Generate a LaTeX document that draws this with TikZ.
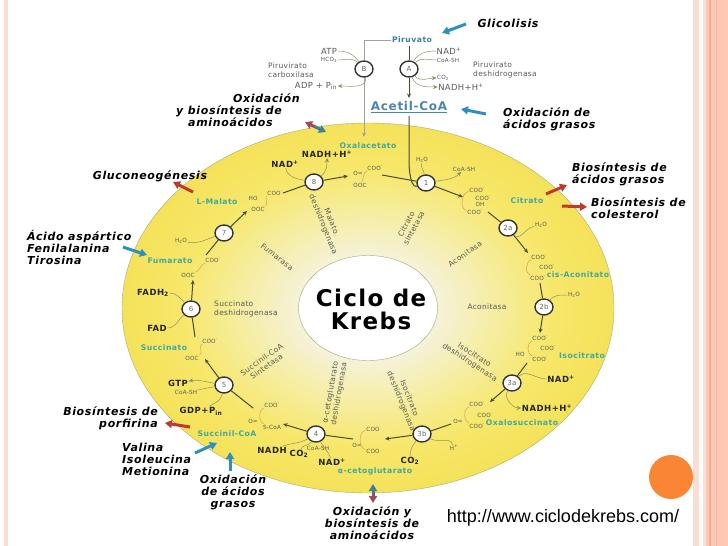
\documentclass[tikz,border=0pt]{standalone}
\usepackage{fontspec}
\setmainfont{DejaVu Sans}
\newfontfamily\notefont[LetterSpace=6]{DejaVu Sans}
\newfontfamily\smallfont[LetterSpace=4]{DejaVu Sans}
\newfontfamily\urlfont{Liberation Sans}
\usetikzlibrary{shapes.geometric,arrows.meta}
\definecolor{stripepale}{HTML}{FCDDD2}
\definecolor{stripemain}{HTML}{FFC8B4}
\definecolor{stripedark}{HTML}{EDB08C}
\definecolor{orangedot}{HTML}{F98535}
\definecolor{diskline}{HTML}{A8A878}
\definecolor{teallabel}{HTML}{3FA9A0}
\definecolor{bluelabel}{HTML}{4A86A8}
\definecolor{bluearrow}{HTML}{2E8FC0}
\definecolor{redarrow}{HTML}{C03A2B}
\definecolor{duskred}{HTML}{A04C58}
\definecolor{duskblue}{HTML}{3F7F9A}
\definecolor{flowline}{HTML}{4A4A2E}
\definecolor{sideline}{HTML}{8F8F68}
\definecolor{chainline}{HTML}{D9A050}
\definecolor{greyline}{HTML}{9AA3A3}
\definecolor{diskmid}{HTML}{F5F2DA}
\definecolor{diskwarm}{HTML}{F6EDA0}
\definecolor{diskgold}{HTML}{F7E769}
\definecolor{diskedge}{HTML}{F5E25A}
\pgfdeclareradialshading{diskshade}{\pgfpoint{0bp}{0bp}}{color(0bp)=(diskmid);color(7bp)=(diskmid);color(13bp)=(diskwarm);color(19bp)=(diskgold);color(25bp)=(diskedge);color(50bp)=(diskedge)}
\begin{document}
\begin{tikzpicture}[x=1pt, y=-1pt, >={Stealth[length=4.5pt,width=4pt]},
	enzyme/.style = {draw=black!80, ellipse, fill=white, line width=1.4pt, inner sep=0pt, minimum width=18pt, minimum height=16pt, text=black!60, font=\smallfont\fontsize{7}{8}\selectfont},
	metabolite/.style = {text=teallabel, inner sep=0.5pt, font=\notefont\bfseries\fontsize{7.7}{9}\selectfont},
	cofactor/.style = {text=black!85, inner sep=0.5pt, font=\notefont\bfseries\fontsize{8.5}{10}\selectfont},
	plain/.style = {text=black!65, inner sep=0.5pt, font=\smallfont\fontsize{8.4}{9}\selectfont},
	tiny/.style = {text=black!65, inner sep=0.5pt, font=\smallfont\fontsize{5.7}{6}\selectfont},
	enzname/.style = {text=black!65, align=center, inner sep=0pt, font=\smallfont\fontsize{7.5}{8.6}\selectfont},
	note/.style = {text=black, inner sep=0pt, font=\notefont\bfseries\itshape\fontsize{11}{12}\selectfont},
	flow/.style = {draw=flowline, line width=1pt},
	side/.style = {draw=sideline, line width=0.5pt},
	chain/.style = {draw=chainline, line width=0.5pt},
	bigarrow/.style = {-{Triangle[length=7pt,width=8pt]}, line width=3pt}]
	\useasboundingbox (0,0) rectangle (728,546);
	\fill[stripepale] (4,0) rectangle (8,546);
	\fill[stripepale] (693,0) rectangle (699,546);
	\fill[stripepale] (703,0) rectangle (706,546);
	\fill[stripemain] (706,0) rectangle (728,546);
	\fill[stripedark] (709,0) rectangle (710.5,546);
	\fill[stripedark!60!stripemain] (716,0) rectangle (717,546);

	\node[ellipse, draw=diskline, shade, shading=diskshade, inner sep=0pt, minimum width=492pt, minimum height=370pt] (disk) at (368,308) {};
	\node[ellipse, draw=diskline, fill=white, inner sep=0pt, minimum width=139pt, minimum height=105pt] (hole) at (368,308) {};
	\node[align=center, inner sep=0pt, font=\notefont\bfseries\fontsize{23}{23}\selectfont] (krebs) at (371,309) {Ciclo de\\ Krebs};
	\node[circle, fill=orangedot, minimum size=44pt, inner sep=0pt] (dot) at (671,477) {};
	\node[inner sep=0pt, font=\urlfont\fontsize{18}{20}\selectfont] (url) at (563,518) {http://www.ciclodekrebs.com/};

	\node[enzyme] (A) at (409,69) {A};
	\node[enzyme] (B) at (364,69) {B};
	\node[enzyme] (e1) at (426,183) {1};
	\node[enzyme] (e2a) at (508,228) {2a};
	\node[enzyme] (e2b) at (544,307) {2b};
	\node[enzyme] (e3a) at (512,383) {3a};
	\node[enzyme] (e3b) at (422,434) {3b};
	\node[enzyme] (e4) at (316,434) {4};
	\node[enzyme] (e5) at (224,385) {5};
	\node[enzyme] (e6) at (191,309) {6};
	\node[enzyme] (e7) at (224,233) {7};
	\node[enzyme] (e8) at (314,182) {8};

	\node[metabolite, text=duskblue] (piruvato) at (412,40) {Piruvato};
	\node[inner sep=1pt, text=bluelabel, font=\notefont\bfseries\fontsize{12}{13}\selectfont] (acetil) at (409,107) {\underline{Acetil-CoA}};
	\node[metabolite] (oxalacetato) at (368,146) {Oxalacetato};
	\node[metabolite] (citrato) at (527,201) {Citrato};
	\node[metabolite] (cisacon) at (578,275) {cis-Aconitato};
	\node[metabolite] (isocitrato) at (582,356) {Isocitrato};
	\node[metabolite] (oxalosucc) at (522,423) {Oxalosuccinato};
	\node[metabolite] (cetoglut) at (375,471) {α-cetoglutarato};
	\node[metabolite] (succoa) at (227,434) {Succinil-CoA};
	\node[metabolite] (succinato) at (164,348) {Succinato};
	\node[metabolite] (fumarato) at (170,261) {Fumarato};
	\node[metabolite] (malato) at (217,202) {L-Malato};

	\node[plain] (atp) at (329,51) {ATP};
	\node[tiny] (hco) at (329,60) {HCO\textsubscript{3}};
	\node[plain] (adp) at (316,86) {ADP + P\textsubscript{in}};
	\node[plain] (nadA) at (449,51) {NAD\textsuperscript{+}};
	\node[tiny] (coaA) at (448,60) {CoA-SH};
	\node[tiny] (coA) at (443,78) {CO\textsubscript{2}};
	\node[plain] (nadhA) at (461,87) {NADH+H\textsuperscript{+}};
	\node[enzname, align=left, anchor=west] (pcarb) at (268,70) {Piruvirato\\ carboxilasa};
	\node[enzname, align=left, anchor=west] (pdes) at (473,70) {Piruvirato\\ deshidrogenasa};

	\node[tiny] (wat1) at (422,160) {H\textsubscript{2}O};
	\node[tiny] (coa1) at (464,169) {CoA-SH};
	\node[tiny] (wat2a) at (541,225) {H\textsubscript{2}O};
	\node[tiny] (wat2b) at (574,295) {H\textsubscript{2}O};
	\node[cofactor] (nad3a) at (561,379) {NAD\textsuperscript{+}};
	\node[cofactor] (nadh3a) at (547,408) {NADH+H\textsuperscript{+}};
	\node[cofactor] (co3b) at (410,461) {CO\textsubscript{2}};
	\node[tiny] (h3b) at (454,448) {H\textsuperscript{+}};
	\node[cofactor] (nadh4) at (272,450) {NADH};
	\node[cofactor] (co4) at (299,454) {CO\textsubscript{2}};
	\node[tiny] (coa4) at (318,448) {CoA-SH};
	\node[cofactor] (nad4) at (332,462) {NAD\textsuperscript{+}};
	\node[cofactor] (gtp) at (178,383) {GTP};
	\node[tiny] (coa5) at (186,392) {CoA-SH};
	\node[cofactor] (gdp) at (201,411) {GDP+P\textsubscript{in}};
	\node[cofactor] (fadh) at (153,293) {FADH\textsubscript{2}};
	\node[cofactor] (fad) at (157,328) {FAD};
	\node[tiny] (wat7) at (181,241) {H\textsubscript{2}O};
	\node[cofactor] (nad8) at (285,164) {NAD\textsuperscript{+}};
	\node[cofactor] (nadh8) at (327,154) {NADH+H\textsuperscript{+}};

	\node[tiny] (oxa1) at (375,168) {COO\textsuperscript{-}};
	\node[tiny] (oxa2) at (358,173) {O=};
	\node[tiny] (oxa3) at (360,185) {OOC};
	\node[tiny] (cit1) at (477,190) {COO\textsuperscript{-}};
	\node[tiny] (cit2) at (483,198) {COO\textsuperscript{-}};
	\node[tiny] (cit3) at (480,204) {OH};
	\node[tiny] (cit4) at (475,212) {COO\textsuperscript{-}};
	\node[tiny] (cis1) at (539,257) {COO\textsuperscript{-}};
	\node[tiny] (cis2) at (547,267) {COO\textsuperscript{-}};
	\node[tiny] (cis3) at (538,278) {COO\textsuperscript{-}};
	\node[tiny] (iso1) at (540,338) {COO\textsuperscript{-}};
	\node[tiny] (iso2) at (548,348) {COO\textsuperscript{-}};
	\node[tiny] (iso3) at (520,354) {HO};
	\node[tiny] (iso4) at (540,359) {COO\textsuperscript{-}};
	\node[tiny] (osu1) at (477,404) {COO\textsuperscript{-}};
	\node[tiny] (osu2) at (485,415) {COO\textsuperscript{-}};
	\node[tiny] (osu3) at (458,421) {O=};
	\node[tiny] (osu4) at (477,426) {COO\textsuperscript{-}};
	\node[tiny] (cet1) at (373,429) {COO};
	\node[tiny] (cet2) at (357,445) {O=};
	\node[tiny] (cet3) at (373,451) {COO};
	\node[tiny] (suc1) at (272,405) {COO\textsuperscript{-}};
	\node[tiny] (suc2) at (253,421) {O=};
	\node[tiny] (suc3) at (272,427) {S-CoA};
	\node[tiny] (sut1) at (210,341) {COO\textsuperscript{-}};
	\node[tiny] (sut2) at (192,358) {OOC};
	\node[tiny] (fum1) at (213,260) {COO\textsuperscript{-}};
	\node[tiny] (fum2) at (188,275) {OOC};
	\node[tiny] (mal1) at (275,193) {COO\textsuperscript{-}};
	\node[tiny] (mal2) at (253,198) {HO};
	\node[tiny] (mal3) at (258,209) {OOC};

	\node[enzname, rotate=62] (ncs) at (410,226) {Citrato\\ sintetasa};
	\node[enzname, rotate=35] (nac1) at (465,254) {Aconitasa};
	\node[enzname] (nac2) at (487,307) {Aconitasa};
	\node[enzname, rotate=-33] (nid1) at (472,359) {Isocitrato\\ deshidrogenasa};
	\node[enzname, rotate=-68] (nid2) at (405,400) {Isocitrato\\ deshidrogenasa};
	\node[enzname, rotate=80] (nak) at (335,393) {α-cetoglutarato\\ deshidrogenasa};
	\node[enzname, rotate=35] (nsc) at (264,363) {Succinil-CoA\\ Sintetasa};
	\node[enzname, align=left, anchor=west] (nsd) at (214,309) {Succinato\\ deshidrogenasa};
	\node[enzname, rotate=-38] (nfu) at (277,257) {Fumarasa};
	\node[enzname, rotate=-68] (nmd) at (327,223) {Malato\\ deshidrogenasa};

	\node[note] (glico) at (508,23) {Glicolisis};
	\node[note, align=left, anchor=west] (oxgra1) at (503,119) {Oxidación de\\ ácidos grasos};
	\node[note, align=left, anchor=west] (oxami1) at (176,110) {\hspace*{57pt}Oxidación\\ y biosíntesis de\\ \hspace*{12pt}aminoácidos};
	\node[note, align=left, anchor=west] (bgrasos) at (572,174.5) {Biosíntesis de\\ ácidos grasos};
	\node[note, align=left, anchor=west] (bcoles) at (591,208) {Biosíntesis de\\ colesterol};
	\node[note] (gluco) at (150,176) {Gluconeogénesis};
	\node[note, align=left, anchor=west] (aspart) at (27,247) {Ácido aspártico\\ Fenilalanina\\ Tirosina};
	\node[note, align=right, anchor=east] (porfi) at (158,418) {Biosíntesis de\\ porfirina};
	\node[note, align=left, anchor=west] (valina) at (122,459) {Valina\\ Isoleucina\\ Metionina};
	\node[note, align=center] (oxgra2) at (233,492) {Oxidación\\ de ácidos\\ grasos};
	\node[note, align=center] (oxami2) at (372,523) {Oxidación y\\ biosíntesis de\\ aminoácidos};

	\coordinate (piru) at (364,40);
	\coordinate (piruA) at (409,46);
	\coordinate (tipA) at (409,98);
	\coordinate (acet) at (409,116);
	\coordinate (oxal) at (364,137);
	\coordinate (acbend) at (409,165);
	\coordinate (s1) at (382,175);
	\coordinate (t8) at (348,176);
	\coordinate (t1) at (463,197);
	\coordinate (t2a) at (528,253);
	\coordinate (t2b) at (540,333);
	\coordinate (t3a) at (490,402);
	\coordinate (t3b) at (385,439);
	\coordinate (t4) at (283,424);
	\coordinate (t5) at (205,359);
	\coordinate (t6) at (193,280);
	\coordinate (t7) at (247,211);
	\coordinate (s2) at (488,212);
	\coordinate (s2b) at (540,283);
	\coordinate (s3) at (527,363);
	\coordinate (s4) at (451,424);
	\coordinate (s5) at (353,439);
	\coordinate (s6) at (253,408);
	\coordinate (s7) at (195,337);
	\coordinate (s8) at (206,255);
	\coordinate (s9) at (283,193);

	\draw[draw=greyline, line width=1pt] (piruvato.west) -- (piru) -- (B.north);
	\draw[->, draw=greyline, line width=1pt] (B.south) -- (oxal);
	\draw[flow] (piruA) -- (A.north);
	\draw[->, flow] (A.south) -- (tipA);
	\draw[flow] (acet) -- (acbend) to[out=90, in=200] (e1);

	\draw[flow] (s1) -- (e1);
	\draw[->, flow] (e1) -- (t1);
	\draw[flow] (s2) -- (e2a);
	\draw[->, flow] (e2a) -- (t2a);
	\draw[flow] (s2b) -- (e2b);
	\draw[->, flow] (e2b) -- (t2b);
	\draw[flow] (s3) -- (e3a);
	\draw[->, flow] (e3a) -- (t3a);
	\draw[flow] (s4) -- (e3b);
	\draw[->, flow] (e3b) -- (t3b);
	\draw[flow] (s5) -- (e4);
	\draw[->, flow] (e4) -- (t4);
	\draw[flow] (s6) -- (e5);
	\draw[->, flow] (e5) -- (t5);
	\draw[flow] (s7) -- (e6);
	\draw[->, flow] (e6) -- (t6);
	\draw[flow] (s8) -- (e7);
	\draw[->, flow] (e7) -- (t7);
	\draw[flow] (s9) -- (e8);
	\draw[->, flow] (e8) -- (t8);

	\draw[side] (atp) to[out=0, in=125] (B);
	\draw[side] (hco) to[out=0, in=135] (B);
	\draw[->, side] (B) to[out=-80, in=0] (adp);
	\draw[side] (nadA) to[out=180, in=60] (A);
	\draw[side] (coaA) to[out=180, in=45] (A);
	\draw[->, side] (A) to[out=-50, in=180] (coA);
	\draw[->, side] (A) to[out=-70, in=180] (nadhA);
	\draw[side] (wat1) to[out=-100, in=100] (e1);
	\draw[->, side] (e1) to[out=10, in=225] (coa1);
	\draw[side] (e2a) to[out=-50, in=190] (wat2a);
	\draw[side] (e2b) to[out=50, in=180] (wat2b);
	\draw[side] (nad3a) to[out=180, in=45] (e3a);
	\draw[->, side] (e3a) to[out=-120, in=180] (nadh3a);
	\draw[side] (e3b) to[out=-130, in=90] (co3b);
	\draw[side] (e3b) to[out=-30, in=110] (h3b);
	\draw[side] (e4) to[out=-150, in=20] (nadh4);
	\draw[side] (e4) to[out=-120, in=70] (co4);
	\draw[side] (e4) to[out=-60, in=110] (nad4);
	\draw[->, side] (e5) to[out=170, in=10] (gtp);
	\draw[side] (e5) to[out=190, in=10] (coa5);
	\draw[side] (e5) to[out=-100, in=30] (gdp);
	\draw[side] (fadh) to[out=0, in=135] (e6);
	\draw[side] (e6) to[out=-140, in=0] (fad);
	\draw[side] (wat7) to[out=-10, in=-160] (e7);
	\draw[side] (nad8) to[out=-80, in=170] (e8);
	\draw[->, side] (e8) to[out=40, in=-90] (nadh8);

	\draw[chain] (oxa1) to[out=200, in=60] (oxa3);
	\draw[chain] (cit1) to[out=190, in=170] (cit4);
	\draw[chain] (cis1) to[out=200, in=160] (cis3);
	\draw[chain] (iso1) to[out=200, in=160] (iso4);
	\draw[chain] (osu1) to[out=200, in=160] (osu4);
	\draw[chain] (cet1) to[out=190, in=170] (cet3);
	\draw[chain] (suc1) to[out=200, in=160] (suc3);
	\draw[chain] (sut1) to[out=200, in=20] (sut2);
	\draw[chain] (fum1) to[out=200, in=20] (fum2);
	\draw[chain] (mal1) to[out=200, in=20] (mal3);

	\coordinate (glia) at (466,24);
	\coordinate (glib) at (442,33);
	\coordinate (acoa) at (486,114);
	\coordinate (acob) at (461,109);
	\coordinate (bgra) at (546,194);
	\coordinate (bgrb) at (567,185);
	\coordinate (bcoa) at (562,206);
	\coordinate (bcob) at (587,207);
	\coordinate (gnea) at (193,192);
	\coordinate (gneb) at (173,182);
	\coordinate (aspa) at (123,247);
	\coordinate (aspb) at (147,255);
	\coordinate (pora) at (190,427);
	\coordinate (porb) at (165,423);
	\coordinate (vala) at (195,453);
	\coordinate (valb) at (217,443);
	\coordinate (oxga) at (230,471);
	\coordinate (oxgb) at (230,452);
	\coordinate (dtop) at (315.5,127);
	\coordinate (dtopa) at (305,122);
	\coordinate (dtopb) at (326,132);
	\coordinate (dbot) at (373,493);
	\coordinate (dbota) at (373,484);
	\coordinate (dbotb) at (373,503);

	\draw[bigarrow, bluearrow] (glia) -- (glib);
	\draw[bigarrow, bluearrow] (acoa) -- (acob);
	\draw[bigarrow, redarrow] (bgra) -- (bgrb);
	\draw[bigarrow, redarrow] (bcoa) -- (bcob);
	\draw[bigarrow, redarrow] (gnea) -- (gneb);
	\draw[bigarrow, bluearrow] (aspa) -- (aspb);
	\draw[bigarrow, redarrow] (pora) -- (porb);
	\draw[bigarrow, bluearrow] (vala) -- (valb);
	\draw[bigarrow, bluearrow] (oxga) -- (oxgb);
	\draw[bigarrow, duskred] (dtop) -- (dtopa);
	\draw[bigarrow, duskblue] (dtop) -- (dtopb);
	\draw[bigarrow, duskblue] (dbot) -- (dbota);
	\draw[bigarrow, duskred] (dbot) -- (dbotb);
\end{tikzpicture}
\end{document}
